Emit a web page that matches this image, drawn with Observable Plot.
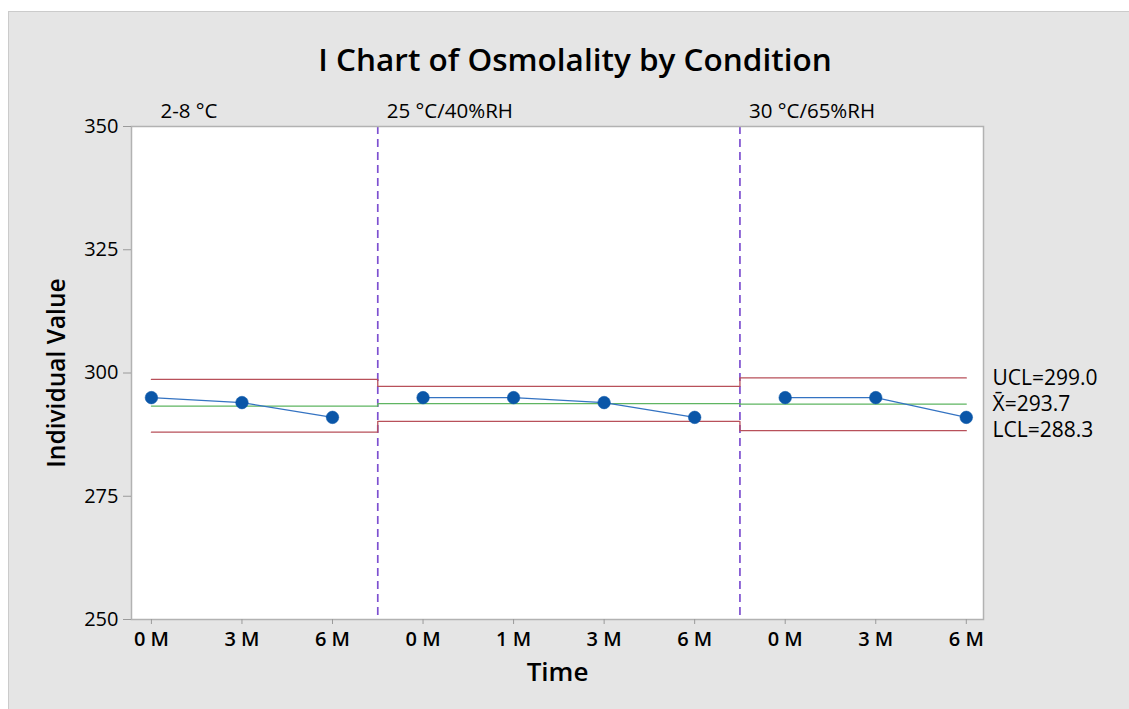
<!DOCTYPE html>
<html><head><meta charset="utf-8">
<script src="https://cdn.jsdelivr.net/npm/d3@7"></script>
<script src="https://cdn.jsdelivr.net/npm/@observablehq/plot@0.6"></script>
<style>
html,body{margin:0;padding:0;background:#fff;width:1129px;height:709px;overflow:hidden;}
#panel{position:absolute;left:8px;top:11px;width:1121px;height:698px;background:#e5e5e5;border-left:1px solid #cbcbcb;border-top:1px solid #cbcbcb;font-family:"Open Sans",sans-serif;}
#title{position:absolute;left:566px;top:25px;transform:translateX(-50%);line-height:44px;white-space:nowrap;font-size:31.5px;font-weight:600;color:#000;}
#chart{position:absolute;left:0;top:0;}
</style></head>
<body>
<div id="panel"><div id="title">I Chart of Osmolality by Condition</div><div id="chart"></div></div>
<script>
const times = ["0 M","3 M","6 M","0 M","1 M","3 M","6 M","0 M","3 M","6 M"];
const conditions = ["2-8 °C","25 °C/40%RH","30 °C/65%RH"];
const conditionOf = [0,0,0,1,1,1,1,2,2,2];
const osmolality = [295,294,291,295,295,294,291,295,295,291];
const ucl = [298.7, 297.3, 299.0];
const center = [293.3, 293.8, 293.7];
const lcl = [288.0, 290.2, 288.3];
const yTicks = [250,275,300,325,350];

const points = times.map((t,i)=>({obs:i+1, time:t, stage:conditionOf[i], value:osmolality[i]}));
const firstObs = conditions.map((c,k)=>d3.min(points.filter(p=>p.stage===k), p=>p.obs));
const lastObs = conditions.map((c,k)=>d3.max(points.filter(p=>p.stage===k), p=>p.obs));
const boundaries = conditions.slice(1).map((c,k)=>(lastObs[k]+firstObs[k+1])/2);
const stageStart = conditions.map((c,k)=> k===0 ? firstObs[0] : boundaries[k-1]);
const stageEnd = conditions.map((c,k)=> k===conditions.length-1 ? lastObs[k] : boundaries[k]);
const limitPath = conditions.flatMap((c,k)=>[
  {x:stageStart[k], ucl:ucl[k], cl:center[k], lcl:lcl[k]},
  {x:stageEnd[k], ucl:ucl[k], cl:center[k], lcl:lcl[k]}
]);
const stageLabels = conditions.map((c,k)=>({x:stageStart[k], label:c}));
const last = conditions.length-1;
const rightLabels = [
  {y:ucl[last], label:`UCL=${ucl[last].toFixed(1)}`},
  {y:center[last], label:`X\u0304=${center[last].toFixed(1)}`},
  {y:lcl[last], label:`LCL=${lcl[last].toFixed(1)}`}
];

const chart = Plot.plot({
  width:1120, height:697,
  marginLeft:122, marginRight:146, marginTop:114, marginBottom:90,
  style:{background:"transparent", fontFamily:"'Open Sans', sans-serif", color:"#000"},
  x:{domain:[0.78,10.19]},
  y:{domain:[250,350]},
  marks:[
    Plot.frame({fill:"white"}),
    Plot.ruleX(boundaries, {stroke:"#7d50d0", strokeWidth:1.7, strokeDasharray:"8,5"}),
    Plot.line(limitPath, {x:"x", y:"ucl", stroke:"#b8505a", strokeWidth:1.3}),
    Plot.line(limitPath, {x:"x", y:"lcl", stroke:"#b8505a", strokeWidth:1.3}),
    Plot.line(limitPath, {x:"x", y:"cl", stroke:"#5fb562", strokeWidth:1.3}),
    Plot.line(points, {x:"obs", y:"value", z:"stage", stroke:"#3473c2", strokeWidth:1.2}),
    Plot.dot(points, {x:"obs", y:"value", r:6.3, fill:"#0a56a8", stroke:"#0a56a8", strokeWidth:0.5}),
    Plot.frame({stroke:"#b2b2b2", strokeWidth:1.5}),
    Plot.axisY({ticks:yTicks, tickSize:8, tickPadding:5, fontSize:20, stroke:"#9a9a9a", fill:"#000", label:null}),
    Plot.axisX({ticks:points.map(p=>p.obs), tickFormat:i=>times[i-1], tickSize:5, tickPadding:7, fontSize:20, fontWeight:600, stroke:"#9a9a9a", fill:"#000", label:null}),
    Plot.text(["Time"], {frameAnchor:"bottom", dy:61, fontSize:26, fontWeight:600, fill:"#000"}),
    Plot.text(["Individual Value"], {frameAnchor:"left", dx:-74, rotate:-90, textAnchor:"middle", lineAnchor:"middle", fontSize:24.5, fontWeight:600, fill:"#000"}),
    Plot.text(stageLabels, {x:"x", frameAnchor:"top", text:"label", dx:9, dy:-15, textAnchor:"start", lineAnchor:"middle", fontSize:20.5, fill:"#000"}),
    Plot.text(rightLabels, {y:"y", frameAnchor:"right", text:"label", dx:9, textAnchor:"start", lineAnchor:"middle", fontSize:21, fill:"#000"})
  ]
});
document.getElementById("chart").appendChild(chart);
</script>
</body></html>
